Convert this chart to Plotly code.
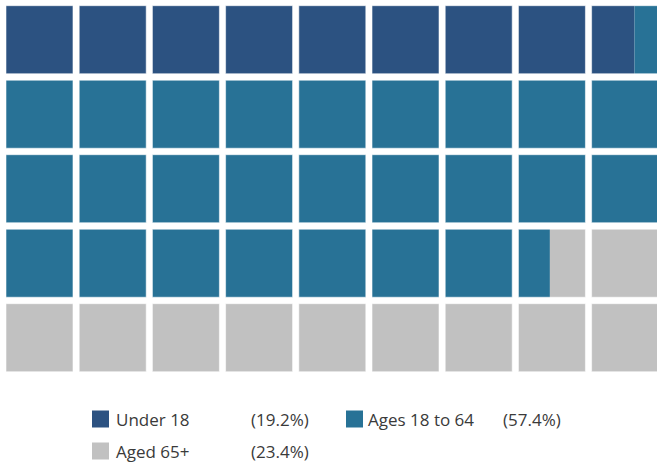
import plotly.graph_objects as go

categories = ["Under 18", "Ages 18 to 64", "Aged 65+"]
percent_labels = ["(19.2%)", "(57.4%)", "(23.4%)"]
values = [19.2, 57.4, 23.4]
colors = ["#2c5281", "#287296", "#c1c1c1"]

N_COLS = 9
N_ROWS = 5
TOTAL_CELLS = N_COLS * N_ROWS
CELL_W = 0.915
CELL_H = 0.913

W, H = 657, 463

fig = go.Figure()
fig.add_trace(go.Scatter(x=[], y=[], showlegend=False, hoverinfo="skip"))

# cumulative intervals in cell units
total = sum(values)
bounds = []
acc = 0.0
for v in values:
    a = acc
    acc += v / total * TOTAL_CELLS
    bounds.append((a, acc))

shapes = []
for k in range(TOTAL_CELLS):
    row, col = divmod(k, N_COLS)
    for ci, (a, b) in enumerate(bounds):
        lo = max(a, k)
        hi = min(b, k + 1)
        if hi - lo <= 1e-9:
            continue
        f0, f1 = lo - k, hi - k
        shapes.append(dict(
            type="rect", xref="x", yref="y",
            x0=col + f0 * CELL_W, x1=col + f1 * CELL_W,
            y0=row, y1=row + CELL_H,
            fillcolor=colors[ci], line=dict(width=0), layer="above",
        ))
    shapes.append(dict(
        type="rect", xref="x", yref="y",
        x0=col, x1=col + CELL_W, y0=row, y1=row + CELL_H,
        fillcolor="rgba(0,0,0,0)",
        line=dict(width=1, color="rgba(255,255,255,0.55)"), layer="above",
    ))

# legend (pixel positions converted to paper coords)
legend_items = [
    (92, 419, 116, 251),   # Under 18
    (346, 419, 368, 503),  # Ages 18 to 64
    (92, 451, 116, 251),   # Aged 65+
]
annotations = []
SQ = 17
for i, (sx, cy, tx, px) in enumerate(legend_items):
    shapes.append(dict(
        type="rect", xref="paper", yref="paper",
        x0=sx / W, x1=(sx + SQ) / W,
        y0=1 - (cy + SQ / 2) / H, y1=1 - (cy - SQ / 2) / H,
        fillcolor=colors[i], line=dict(width=0),
    ))
    for xpos, txt in ((tx, categories[i]), (px, percent_labels[i])):
        annotations.append(dict(
            x=(xpos - 2) / W, y=1 - cy / H, xref="paper", yref="paper",
            text=txt, showarrow=False, xanchor="left", yanchor="middle",
            font=dict(family="Open Sans", size=17, color="#3a3a3a"),
        ))

fig.update_layout(
    width=W, height=H,
    margin=dict(l=0, r=0, t=0, b=0),
    paper_bgcolor="white", plot_bgcolor="white",
    xaxis=dict(range=[-0.082, 8.893], visible=False, fixedrange=True),
    yaxis=dict(range=[6.138, -0.0765], visible=False, fixedrange=True),
    shapes=shapes, annotations=annotations, showlegend=False,
)

fig.write_html(
    "out.html",
    config={"displayModeBar": False},
    post_script="document.body.style.margin='0';document.body.style.overflow='hidden';",
)
